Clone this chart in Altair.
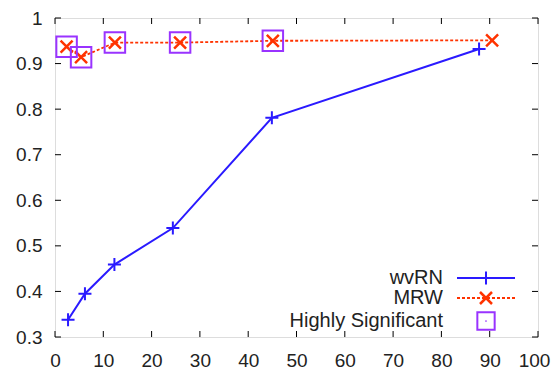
import altair as alt
import pandas as pd

wvrn_x = [2.7, 6.2, 12.3, 24.4, 44.9, 87.8]
wvrn_y = [0.338, 0.395, 0.459, 0.539, 0.781, 0.932]
mrw_x = [2.4, 5.4, 12.4, 25.9, 45.1, 90.5]
mrw_y = [0.937, 0.914, 0.946, 0.946, 0.950, 0.951]
sig_x = [2.4, 5.4, 12.4, 25.9, 45.1]
sig_y = [0.937, 0.914, 0.946, 0.946, 0.950]
x_ticks = [0, 10, 20, 30, 40, 50, 60, 70, 80, 90, 100]
y_ticks = [0.3, 0.4, 0.5, 0.6, 0.7, 0.8, 0.9, 1.0]
legend_labels = ["wvRN", "MRW", "Highly Significant"]

W, H = 483, 319
BLUE = "#2a1aff"
RED = "#ff3300"
PURPLE = "#9933ff"
FONT = "Liberation Sans"
FS = 19

wv = pd.DataFrame({"x": wvrn_x, "y": wvrn_y})
mr = pd.DataFrame({"x": mrw_x, "y": mrw_y})
sg = pd.DataFrame({"x": sig_x, "y": sig_y})
xt = pd.DataFrame({"x": x_ticks})
yt = pd.DataFrame({"y": y_ticks})

xs = alt.Scale(domain=[0, 100], nice=False, zero=False)
ys = alt.Scale(domain=[0.3, 1.0], nice=False, zero=False)

xaxis = alt.Axis(values=x_ticks, format="d", title=None, grid=False, ticks=False, tickSize=0,
                 domain=False, labelPadding=14, labelFont=FONT, labelFontSize=FS,
                 labelColor="#222222", labelFlush=False, labelOverlap=False,
                 labelOffset={"condition": {"test": "datum.value == 100", "value": -4}, "value": 0})
yaxis = alt.Axis(values=y_ticks, format="~g", title=None, grid=False, ticks=False, tickSize=0,
                 domain=False, labelPadding=13, labelFont=FONT, labelFontSize=FS,
                 labelColor="#222222", labelFlush=False, labelOverlap=False)

X = lambda: alt.X("x:Q", scale=xs, axis=xaxis)
Y = lambda: alt.Y("y:Q", scale=ys, axis=yaxis)

plus = "M-1,0L1,0M0,-1L0,1"
cross = "M-1,-1L1,1M-1,1L1,-1"

wv_line = alt.Chart(wv).mark_line(color=BLUE, strokeWidth=2).encode(x=X(), y=Y())
wv_pts = alt.Chart(wv).mark_point(shape=plus, size=169, color=BLUE, strokeWidth=2, opacity=1).encode(x=X(), y=Y())
mr_line = alt.Chart(mr).mark_line(color=RED, strokeWidth=1.8, strokeDash=[3, 2]).encode(x=X(), y=Y())
mr_pts = alt.Chart(mr).mark_point(shape=cross, size=144, color=RED, strokeWidth=2.5, opacity=1).encode(x=X(), y=Y())
sg_pts = alt.Chart(sg).mark_point(shape="square", size=420, color=PURPLE, strokeWidth=2, opacity=1, filled=False).encode(x=X(), y=Y())

TL = 6
tick_b = alt.Chart(xt).mark_rule(color="black", strokeWidth=1).encode(
    x=X(), y=alt.value(H), y2=alt.value(H - TL))
tick_t = alt.Chart(xt).mark_rule(color="black", strokeWidth=1).encode(
    x=X(), y=alt.value(0), y2=alt.value(TL))
tick_l = alt.Chart(yt).mark_rule(color="black", strokeWidth=1).encode(
    y=Y(), x=alt.value(0), x2=alt.value(TL))
tick_r = alt.Chart(yt).mark_rule(color="black", strokeWidth=1).encode(
    y=Y(), x=alt.value(W), x2=alt.value(W - TL))

# manual legend (gnuplot style: label left of sample)
rows_y = [260, 280, 303]
tx, lx1, lx2, sx = 388, 402, 460, 431
one = pd.DataFrame({"a": [0]})
legend_layers = []
for lbl, ry in zip(legend_labels, rows_y):
    legend_layers.append(
        alt.Chart(pd.DataFrame({"t": [lbl]})).mark_text(
            align="right", baseline="middle", font=FONT, fontSize=20, color="#222222"
        ).encode(text="t:N", x=alt.value(tx), y=alt.value(ry))
    )
legend_layers += [
    alt.Chart(one).mark_rule(color=BLUE, strokeWidth=2).encode(
        x=alt.value(lx1), x2=alt.value(lx2), y=alt.value(rows_y[0])),
    alt.Chart(one).mark_point(shape=plus, size=169, color=BLUE, strokeWidth=2, opacity=1).encode(
        x=alt.value(sx), y=alt.value(rows_y[0])),
    alt.Chart(one).mark_rule(color=RED, strokeWidth=1.8, strokeDash=[3, 2]).encode(
        x=alt.value(lx1), x2=alt.value(lx2), y=alt.value(rows_y[1])),
    alt.Chart(one).mark_point(shape=cross, size=144, color=RED, strokeWidth=2.5, opacity=1).encode(
        x=alt.value(sx), y=alt.value(rows_y[1])),
    alt.Chart(one).mark_point(shape="square", size=300, color=PURPLE, strokeWidth=2, opacity=1, filled=False).encode(
        x=alt.value(sx), y=alt.value(rows_y[2])),
    alt.Chart(one).mark_point(shape="circle", size=3, color=PURPLE, filled=True, opacity=1).encode(
        x=alt.value(sx), y=alt.value(rows_y[2])),
]

chart = alt.layer(
    tick_b, tick_t, tick_l, tick_r,
    wv_line, mr_line, wv_pts, mr_pts, sg_pts,
    *legend_layers
).properties(
    width=W, height=H,
    autosize=alt.AutoSizeParams(type="none"),
    padding={"left": 47, "top": 10, "right": 14, "bottom": 36},
).configure_view(
    stroke="black", strokeWidth=2
).configure(background="white")

chart.save("out.html", embed_options={"renderer": "svg", "actions": False})
